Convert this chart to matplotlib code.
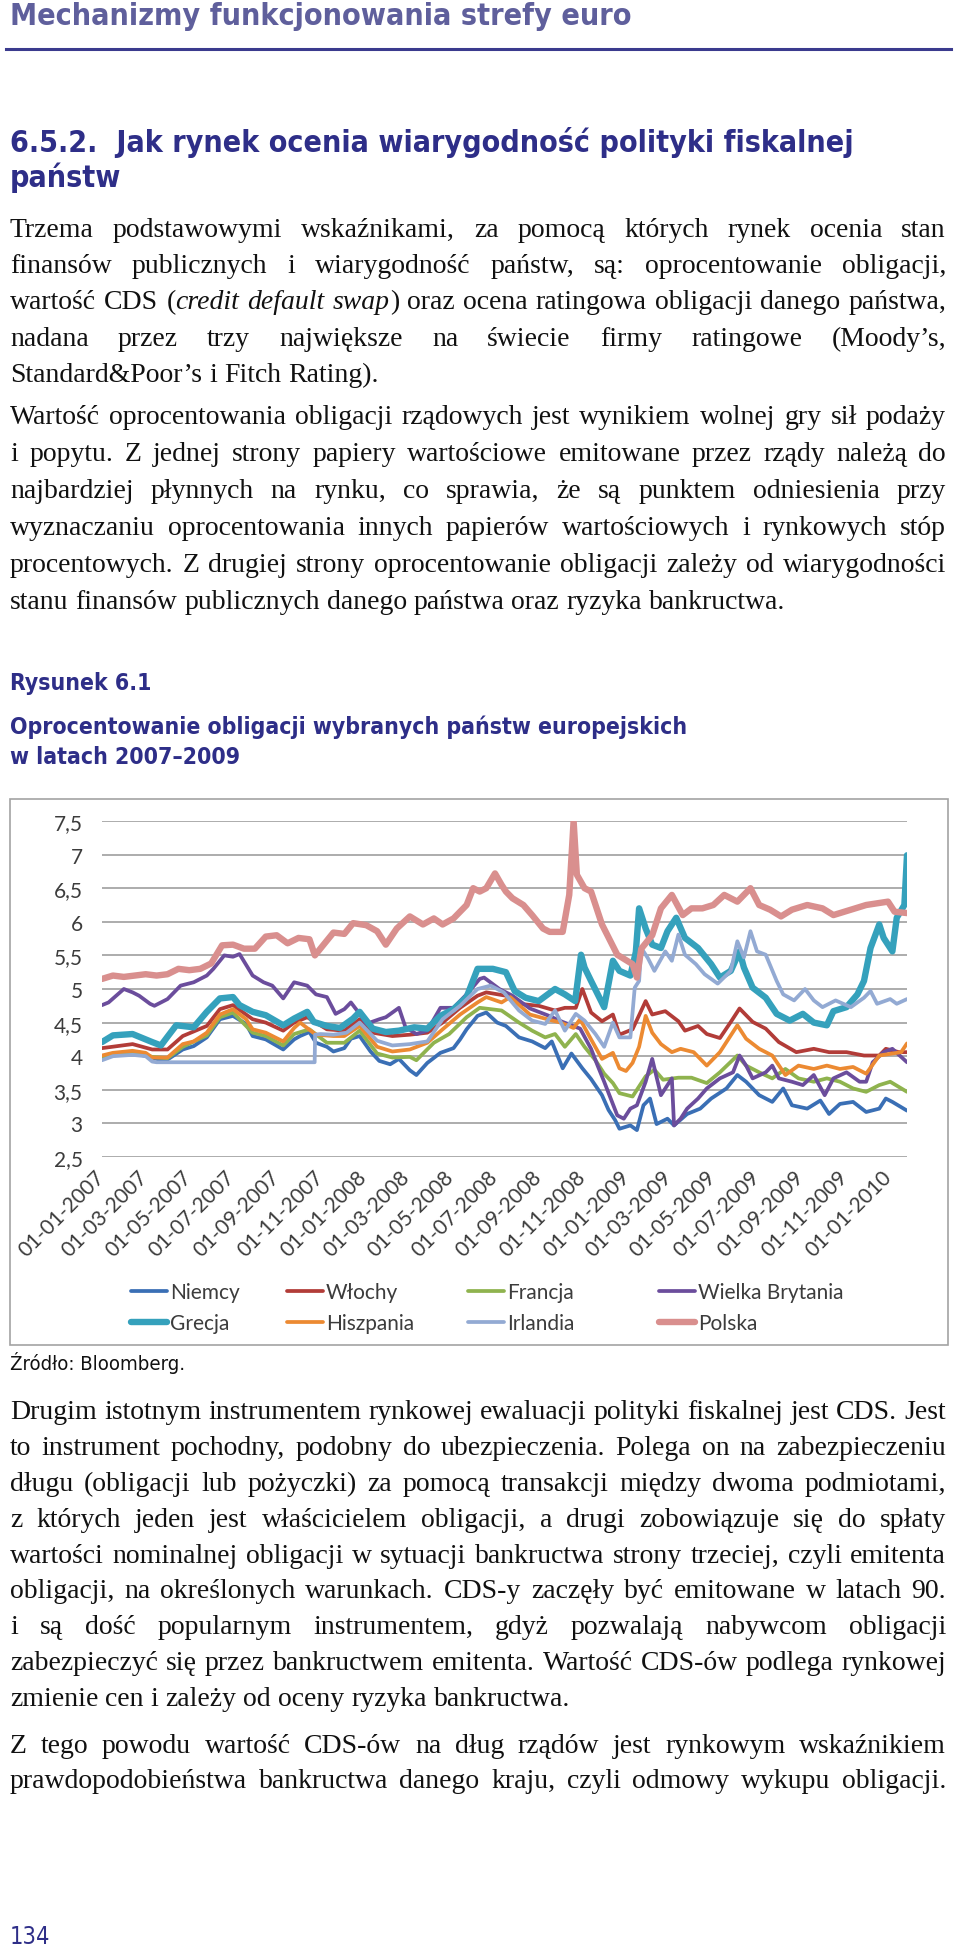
import re

import matplotlib
matplotlib.use('Agg')
import matplotlib.pyplot as plt
import matplotlib.dates as mdates
import pandas as pd
from matplotlib.lines import Line2D
from matplotlib.patches import Rectangle

W, H = 960, 1958
START = pd.Timestamp('2007-01-01')

# chart data: (months since 01-01-2007, bond yield in %)
niemcy = [(0, 3.96), (0.5, 4.02), (1.4, 4.05), (2.3, 3.98), (2.6, 3.95), (3.0, 3.95), (3.7, 4.1),
          (4.2, 4.15), (4.8, 4.28), (5.4, 4.55), (6.0, 4.6), (6.6, 4.48), (6.9, 4.3), (7.5, 4.25),
          (8.3, 4.1), (8.8, 4.25), (9.07, 4.3), (9.5, 4.36), (9.8, 4.2), (10.3, 4.14), (10.6, 4.07),
          (11.1, 4.12), (11.4, 4.26), (11.8, 4.3), (12.3, 4.07), (12.7, 3.93), (13.2, 3.88),
          (13.6, 3.96), (14.1, 3.79), (14.4, 3.72), (14.9, 3.9), (15.5, 4.05), (16.1, 4.12),
          (16.4, 4.25), (16.7, 4.4), (17.2, 4.6), (17.6, 4.65), (18.1, 4.5), (18.5, 4.45),
          (19.1, 4.28), (19.7, 4.22), (20.3, 4.12), (20.6, 4.22), (21.1, 3.82), (21.5, 4.04),
          (22.0, 3.82), (22.4, 3.66), (22.9, 3.42), (23.2, 3.2), (23.5, 3.05), (23.7, 2.92),
          (24.2, 2.97), (24.5, 2.9), (24.8, 3.27), (25.1, 3.37), (25.4, 2.99), (25.9, 3.07),
          (26.2, 2.97), (26.8, 3.14), (27.4, 3.22), (27.9, 3.37), (28.6, 3.52), (29.1, 3.72),
          (29.5, 3.62), (30.1, 3.42), (30.7, 3.32), (31.2, 3.52), (31.6, 3.27), (32.3, 3.22),
          (32.9, 3.34), (33.3, 3.14), (33.8, 3.29), (34.4, 3.32), (35.0, 3.17), (35.6, 3.22),
          (35.9, 3.37), (36.2, 3.32), (36.87, 3.19)]
wlochy = [(0, 4.12), (1.4, 4.18), (2.3, 4.1), (3.0, 4.1), (3.7, 4.3), (4.8, 4.45), (5.4, 4.7),
          (6.0, 4.76), (6.9, 4.55), (7.5, 4.5), (8.3, 4.38), (8.8, 4.5), (9.4, 4.58), (10.3, 4.4),
          (11.1, 4.38), (11.8, 4.55), (12.4, 4.35), (13.3, 4.3), (14.1, 4.32), (14.9, 4.35),
          (15.6, 4.5), (16.4, 4.72), (17.2, 4.9), (17.6, 4.95), (18.5, 4.9), (19.1, 4.78),
          (20.0, 4.75), (20.75, 4.68), (21.2, 4.72), (21.7, 4.72), (22.0, 5.0), (22.4, 4.65),
          (22.9, 4.52), (23.4, 4.62), (23.7, 4.32), (24.3, 4.4), (24.9, 4.82), (25.2, 4.62),
          (25.8, 4.67), (26.4, 4.52), (26.7, 4.38), (27.3, 4.45), (27.7, 4.33), (28.3, 4.27),
          (28.8, 4.51), (29.2, 4.71), (29.8, 4.51), (30.4, 4.41), (31.0, 4.21), (31.8, 4.06),
          (32.6, 4.11), (33.3, 4.06), (34.1, 4.06), (34.9, 4.01), (35.6, 4.01), (35.9, 4.11),
          (36.5, 4.06), (36.87, 4.06)]
francja = [(0, 3.99), (1.4, 4.06), (2.3, 3.99), (3.0, 3.97), (3.7, 4.14), (4.8, 4.31), (5.4, 4.58),
           (6.0, 4.65), (6.9, 4.35), (7.5, 4.3), (8.3, 4.16), (8.8, 4.33), (9.5, 4.4), (10.3, 4.2),
           (11.1, 4.2), (11.8, 4.38), (12.6, 4.04), (13.3, 3.98), (14.1, 3.99), (14.4, 3.94),
           (15.2, 4.2), (15.9, 4.33), (16.7, 4.58), (17.3, 4.72), (18.3, 4.68), (19.1, 4.5),
           (19.7, 4.38), (20.3, 4.28), (20.75, 4.33), (21.2, 4.14), (21.7, 4.33), (22.1, 4.14),
           (22.6, 3.94), (23.0, 3.74), (23.4, 3.6), (23.7, 3.45), (24.3, 3.4), (24.9, 3.7),
           (25.3, 3.8), (25.7, 3.65), (26.4, 3.68), (27.0, 3.68), (27.7, 3.6), (28.3, 3.76),
           (29.1, 4.01), (29.5, 3.86), (30.1, 3.76), (30.7, 3.67), (31.3, 3.81), (31.9, 3.67),
           (32.6, 3.62), (33.2, 3.67), (33.8, 3.62), (34.4, 3.52), (35.0, 3.47), (35.6, 3.57),
           (36.1, 3.62), (36.87, 3.47)]
wielka_brytania = [(0, 4.76), (0.3, 4.8), (1.0, 5.0), (1.4, 4.95), (1.7, 4.9), (2.2, 4.78),
                   (2.4, 4.75), (3.0, 4.85), (3.6, 5.05), (4.2, 5.1), (4.8, 5.2), (5.1, 5.3),
                   (5.6, 5.5), (6.0, 5.48), (6.3, 5.52), (6.9, 5.2), (7.4, 5.1), (7.8, 5.05),
                   (8.3, 4.86), (8.8, 5.1), (9.4, 5.05), (9.8, 4.92), (10.3, 4.88), (10.7, 4.63),
                   (11.1, 4.7), (11.4, 4.8), (11.8, 4.63), (12.1, 4.48), (12.7, 4.55), (13.0, 4.58),
                   (13.6, 4.72), (13.9, 4.43), (14.4, 4.33), (14.9, 4.38), (15.5, 4.72), (16.1, 4.72),
                   (16.7, 4.92), (17.3, 5.15), (17.5, 5.17), (18.2, 5.0), (18.8, 4.9), (19.6, 4.71),
                   (20.4, 4.61), (21.1, 4.51), (21.9, 4.41), (22.4, 4.11), (22.7, 3.86), (23.0, 3.62),
                   (23.3, 3.37), (23.6, 3.12), (23.9, 3.07), (24.2, 3.22), (24.5, 3.27), (24.9, 3.62),
                   (25.2, 3.96), (25.6, 3.42), (25.9, 3.57), (26.1, 3.67), (26.2, 2.97), (26.5, 3.07),
                   (26.8, 3.22), (27.3, 3.37), (27.7, 3.52), (28.3, 3.67), (28.9, 3.76), (29.2, 4.01),
                   (29.5, 3.86), (29.8, 3.67), (30.4, 3.76), (30.7, 3.86), (31.0, 3.67), (31.6, 3.62),
                   (32.1, 3.57), (32.6, 3.72), (33.1, 3.42), (33.5, 3.67), (34.1, 3.76), (34.7, 3.62),
                   (35.0, 3.62), (35.3, 3.91), (35.8, 4.06), (36.2, 4.11), (36.87, 3.91)]
grecja = [(0, 4.21), (0.5, 4.31), (1.4, 4.33), (2.3, 4.21), (2.7, 4.16), (3.0, 4.29), (3.4, 4.46),
          (4.2, 4.43), (4.8, 4.66), (5.4, 4.86), (6.0, 4.88), (6.3, 4.76), (6.9, 4.66), (7.5, 4.61),
          (8.3, 4.46), (8.8, 4.56), (9.4, 4.66), (9.7, 4.51), (10.3, 4.45), (10.9, 4.42),
          (11.5, 4.56), (11.8, 4.66), (12.4, 4.41), (13.0, 4.36), (13.6, 4.38), (14.3, 4.43),
          (14.9, 4.41), (15.5, 4.6), (16.1, 4.7), (16.7, 4.88), (17.2, 5.3), (17.9, 5.3),
          (18.5, 5.25), (18.9, 4.97), (19.4, 4.87), (20.0, 4.82), (20.75, 5.0), (21.2, 4.92),
          (21.67, 4.82), (21.94, 5.51), (22.1, 5.32), (22.4, 5.12), (23.0, 4.73), (23.4, 5.42),
          (23.7, 5.27), (24.2, 5.2), (24.45, 5.55), (24.6, 6.2), (24.9, 5.9), (25.2, 5.66),
          (25.6, 5.61), (25.9, 5.86), (26.3, 6.06), (26.7, 5.76), (27.3, 5.61), (27.9, 5.37),
          (28.3, 5.17), (28.8, 5.27), (29.2, 5.56), (29.4, 5.32), (29.8, 5.02), (30.4, 4.87),
          (30.9, 4.63), (31.5, 4.53), (32.1, 4.63), (32.6, 4.5), (33.2, 4.46), (33.5, 4.67),
          (34.1, 4.73), (34.6, 4.92), (34.9, 5.12), (35.2, 5.61), (35.6, 5.96), (35.8, 5.76),
          (36.2, 5.56), (36.4, 6.06), (36.75, 6.25), (36.87, 6.99)]
hiszpania = [(0, 4.01), (0.5, 4.05), (1.4, 4.08), (2.0, 4.05), (2.3, 3.98), (3.0, 3.98), (3.7, 4.18),
             (4.2, 4.22), (4.8, 4.35), (5.4, 4.62), (6.0, 4.7), (6.6, 4.55), (6.9, 4.4), (7.5, 4.35),
             (8.3, 4.22), (8.8, 4.42), (9.07, 4.5), (9.8, 4.32), (10.6, 4.3), (11.1, 4.3),
             (11.8, 4.45), (12.6, 4.14), (13.3, 4.07), (14.1, 4.1), (14.9, 4.2), (15.6, 4.4),
             (16.4, 4.62), (17.2, 4.8), (17.6, 4.88), (18.3, 4.8), (18.7, 4.88), (19.6, 4.62),
             (20.4, 4.55), (21.0, 4.5), (21.6, 4.42), (21.9, 4.55), (22.4, 4.25), (22.9, 3.96),
             (23.4, 4.05), (23.7, 3.82), (24.0, 3.78), (24.3, 3.9), (24.6, 4.14), (24.9, 4.6),
             (25.2, 4.35), (25.6, 4.18), (26.1, 4.06), (26.5, 4.11), (27.1, 4.06), (27.7, 3.86),
             (28.3, 4.06), (29.1, 4.46), (29.5, 4.26), (30.1, 4.11), (30.7, 4.01), (31.3, 3.72),
             (31.9, 3.86), (32.6, 3.81), (33.2, 3.86), (33.8, 3.81), (34.4, 3.84), (35.0, 3.74),
             (35.6, 4.01), (36.2, 4.04), (36.6, 4.06), (36.87, 4.19)]
irlandia = [(0, 3.94), (0.5, 4.0), (1.4, 4.02), (2.0, 4.0), (2.3, 3.92), (2.5, 3.91), (9.74, 3.91),
            (9.76, 4.32), (10.0, 4.33), (10.6, 4.32), (11.2, 4.35), (11.8, 4.5), (12.6, 4.23),
            (13.3, 4.16), (14.1, 4.18), (14.9, 4.22), (15.6, 4.55), (16.4, 4.75), (17.2, 5.0),
            (17.8, 5.05), (18.4, 4.95), (19.1, 4.68), (19.7, 4.53), (20.3, 4.48), (20.75, 4.68),
            (21.2, 4.38), (21.7, 4.63), (22.1, 4.53), (22.6, 4.33), (23.0, 4.14), (23.4, 4.5),
            (23.7, 4.28), (24.2, 4.28), (24.4, 5.02), (24.6, 5.12), (24.7, 5.61), (25.0, 5.46),
            (25.3, 5.27), (25.8, 5.56), (26.1, 5.42), (26.4, 5.81), (26.7, 5.51), (27.2, 5.37),
            (27.6, 5.22), (28.2, 5.08), (28.8, 5.27), (29.1, 5.71), (29.4, 5.47), (29.7, 5.86),
            (30.0, 5.56), (30.4, 5.51), (30.9, 5.12), (31.2, 4.92), (31.7, 4.83), (32.2, 5.0),
            (32.6, 4.83), (33.0, 4.73), (33.6, 4.83), (34.3, 4.73), (34.9, 4.87), (35.2, 4.97),
            (35.5, 4.78), (36.1, 4.85), (36.4, 4.78), (36.87, 4.85)]
polska = [(0, 5.15), (0.5, 5.2), (1, 5.18), (1.5, 5.2), (2, 5.22), (2.5, 5.2), (3, 5.22), (3.5, 5.3),
          (4, 5.28), (4.5, 5.3), (5, 5.38), (5.5, 5.65), (6, 5.66), (6.5, 5.6), (7, 5.6), (7.5, 5.78),
          (8, 5.8), (8.5, 5.68), (9, 5.76), (9.5, 5.74), (9.75, 5.5), (10, 5.6), (10.6, 5.84),
          (11.1, 5.82), (11.5, 5.98), (12.1, 5.95), (12.6, 5.86), (13, 5.66), (13.5, 5.9),
          (14.1, 6.08), (14.7, 5.96), (15.2, 6.05), (15.6, 5.96), (16.1, 6.05), (16.4, 6.15),
          (16.7, 6.25), (17, 6.5), (17.3, 6.45), (17.6, 6.5), (18, 6.72), (18.3, 6.55), (18.5, 6.45),
          (18.8, 6.35), (19.3, 6.25), (19.7, 6.1), (20.2, 5.9), (20.5, 5.85), (21.1, 5.85),
          (21.4, 6.4), (21.6, 7.5), (21.75, 6.7), (22.1, 6.5), (22.4, 6.45), (22.9, 5.96),
          (23.6, 5.51), (24.3, 5.37), (24.5, 5.17), (24.7, 5.6), (25.2, 5.8), (25.6, 6.2),
          (26.1, 6.4), (26.6, 6.1), (27, 6.2), (27.5, 6.2), (28, 6.25), (28.5, 6.4), (29.1, 6.3),
          (29.7, 6.5), (30.1, 6.25), (30.6, 6.18), (31.1, 6.08), (31.6, 6.18), (32.3, 6.25),
          (33, 6.2), (33.5, 6.1), (34.3, 6.18), (35, 6.25), (36, 6.3), (36.3, 6.15), (36.87, 6.13)]

countries = ['Niemcy', 'Włochy', 'Francja', 'Wielka Brytania',
             'Grecja', 'Hiszpania', 'Irlandia', 'Polska']
series = [niemcy, wlochy, francja, wielka_brytania, grecja, hiszpania, irlandia, polska]
colors = ['#3a6fb5', '#b23c38', '#8fb34e', '#6b4d9c', '#35a1bc', '#ec8a32', '#93aad3', '#d98f8e']
widths = [2.7, 2.7, 2.7, 2.7, 4.6, 2.7, 2.7, 4.6]
yticks = [2.5, 3, 3.5, 4, 4.5, 5, 5.5, 6, 6.5, 7, 7.5]

# page text
header = 'Mechanizmy funkcjonowania strefy euro'
heading = ['6.5.2.  Jak rynek ocenia wiarygodność polityki fiskalnej', 'państw']
par1 = [
    'Trzema podstawowymi wskaźnikami, za pomocą których rynek ocenia stan',
    'finansów publicznych i wiarygodność państw, są: oprocentowanie obligacji,',
    'wartość CDS ({credit} {default} {swap}) oraz ocena ratingowa obligacji danego państwa,',
    'nadana przez trzy największe na świecie firmy ratingowe (Moody’s,',
    'Standard&Poor’s i Fitch Rating).',
]
par2 = [
    'Wartość oprocentowania obligacji rządowych jest wynikiem wolnej gry sił podaży',
    'i popytu. Z jednej strony papiery wartościowe emitowane przez rządy należą do',
    'najbardziej płynnych na rynku, co sprawia, że są punktem odniesienia przy',
    'wyznaczaniu oprocentowania innych papierów wartościowych i rynkowych stóp',
    'procentowych. Z drugiej strony oprocentowanie obligacji zależy od wiarygodności',
    'stanu finansów publicznych danego państwa oraz ryzyka bankructwa.',
]
fig_label = 'Rysunek 6.1'
fig_title = ['Oprocentowanie obligacji wybranych państw europejskich', 'w latach 2007–2009']
source = 'Źródło: Bloomberg.'
par3 = [
    'Drugim istotnym instrumentem rynkowej ewaluacji polityki fiskalnej jest CDS. Jest',
    'to instrument pochodny, podobny do ubezpieczenia. Polega on na zabezpieczeniu',
    'długu (obligacji lub pożyczki) za pomocą transakcji między dwoma podmiotami,',
    'z których jeden jest właścicielem obligacji, a drugi zobowiązuje się do spłaty',
    'wartości nominalnej obligacji w sytuacji bankructwa strony trzeciej, czyli emitenta',
    'obligacji, na określonych warunkach. CDS-y zaczęły być emitowane w latach 90.',
    'i są dość popularnym instrumentem, gdyż pozwalają nabywcom obligacji',
    'zabezpieczyć się przez bankructwem emitenta. Wartość CDS-ów podlega rynkowej',
    'zmienie cen i zależy od oceny ryzyka bankructwa.',
]
par4 = [
    'Z tego powodu wartość CDS-ów na dług rządów jest rynkowym wskaźnikiem',
    'prawdopodobieństwa bankructwa danego kraju, czyli odmowy wykupu obligacji.',
]
page_no = '134'

plt.rcParams['font.family'] = ['Lato', 'DejaVu Sans']
SERIF = ['Liberation Serif', 'DejaVu Serif']
SANS = ['DejaVu Sans']
NAVY = '#2e2e88'

fig = plt.figure(figsize=(W / 100, H / 100), dpi=100)
renderer = fig.canvas.get_renderer()


def fx(x):
    return x / W


def fy(y):
    return 1 - y / H


def put(x, y, s, **kw):
    return fig.text(fx(x), fy(y), s, va='baseline', **kw)


def px_width(t):
    return t.get_window_extent(renderer).width


def fit(x, y, s, w, **kw):
    # pick the font size that makes the line w pixels wide
    t = put(x, y, s, fontsize=10, **kw)
    size = 10 * w / px_width(t)
    t.set_fontsize(size)
    return size


def paragraph(lines, y0, lead, size=20.0, left=10, right=946, full_last=False):
    space = 0.25 * size * 100 / 72
    for i, line in enumerate(lines):
        y = y0 + i * lead
        words = []
        for word in line.split(' '):
            runs = []
            for part in re.split(r'(\{[^}]*\})', word):
                if not part:
                    continue
                style = 'italic' if part.startswith('{') else 'normal'
                t = put(0, y, part.strip('{}'), fontsize=size, family=SERIF,
                        style=style, color='#111111')
                runs.append((t, px_width(t)))
            words.append(runs)
        total = sum(w for runs in words for _, w in runs)
        gap = (right - left - total) / max(len(words) - 1, 1)
        if i == len(lines) - 1 and not full_last:
            gap = min(gap, space)
        x = left
        for runs in words:
            for t, w in runs:
                t.set_x(fx(x))
                x += w
            x += gap


# header and headings
fit(10, 25, header, 620, family=SANS, fontweight='bold', fontstretch='condensed', color='#5f5f9c')
fig.add_artist(Line2D([fx(6), fx(951)], [fy(50), fy(50)], color='#3b3b8e', lw=2.2))
hs = fit(10, 152, heading[0], 842, family=SANS, fontweight='bold', fontstretch='condensed', color=NAVY)
put(10, 187, heading[1], fontsize=hs, family=SANS, fontweight='bold', fontstretch='condensed', color=NAVY)

paragraph(par1, 237, 36.2)
paragraph(par2, 424, 37.0)

ts = fit(10, 734, fig_title[0], 671, family=SANS, fontweight='bold', fontstretch='condensed', color=NAVY)
put(10, 764, fig_title[1], fontsize=ts, family=SANS, fontweight='bold', fontstretch='condensed', color=NAVY)
put(10, 690, fig_label, fontsize=ts, family=SANS, fontweight='bold', fontstretch='condensed', color=NAVY)

# chart frame
fig.add_artist(Rectangle((fx(10), fy(1346)), (948 - 10) / W, (1346 - 800) / H,
                         transform=fig.transFigure, fill=False, ec='#a3a3a3', lw=1.2))

ax = fig.add_axes([fx(102), fy(1158), (907 - 102) / W, (1158 - 822) / H])
last = START
for name, pts, c, lw in zip(countries, series, colors, widths):
    months, vals = zip(*pts)
    dates = START + pd.to_timedelta([m * 30.4375 for m in months], unit='D')
    last = max(last, dates[-1])
    ax.plot(dates, vals, color=c, lw=lw, label=name,
            solid_joinstyle='round', solid_capstyle='round')

ax.set_ylim(2.5, 7.5)
ax.set_xlim(START, last)
ax.set_yticks(yticks)
ax.set_yticklabels([f'{t:g}'.replace('.', ',') for t in yticks])
ax.xaxis.set_major_locator(mdates.MonthLocator(bymonth=(1, 3, 5, 7, 9, 11)))
ax.xaxis.set_major_formatter(mdates.DateFormatter('%d-%m-%Y'))
ax.grid(axis='y', color='#a6a6a6', lw=1.3)
ax.set_axisbelow(True)
for s in ax.spines.values():
    s.set_visible(False)
ax.tick_params(length=0, labelsize=15, labelcolor='#3c3c3c')
ax.tick_params(axis='y', pad=14)
ax.tick_params(axis='x', pad=12)
for lab in ax.get_xticklabels():
    lab.set_rotation(45)
    lab.set_ha('right')
    lab.set_va('center')
    lab.set_rotation_mode('anchor')

# legend: one two-row block per column
lines = ax.get_lines()
for k, x in enumerate([131, 287, 468, 659]):
    fig.legend(handles=[lines[k], lines[k + 4]], loc='upper left',
               bbox_to_anchor=(fx(x), fy(1283)), frameon=False, borderpad=0,
               borderaxespad=0, handlelength=1.75, handletextpad=0.12,
               labelspacing=0.55, fontsize=15, labelcolor='#3c3c3c')

fit(10, 1370, source, 175, family=SANS, fontstretch='condensed', color='#111111')

paragraph(par3, 1419, 35.9)
paragraph(par4, 1753, 35.5, full_last=True)

fit(10, 1944, page_no, 40, family=SANS, fontstretch='condensed', color=NAVY)

fig.savefig('out.png', dpi=100)
